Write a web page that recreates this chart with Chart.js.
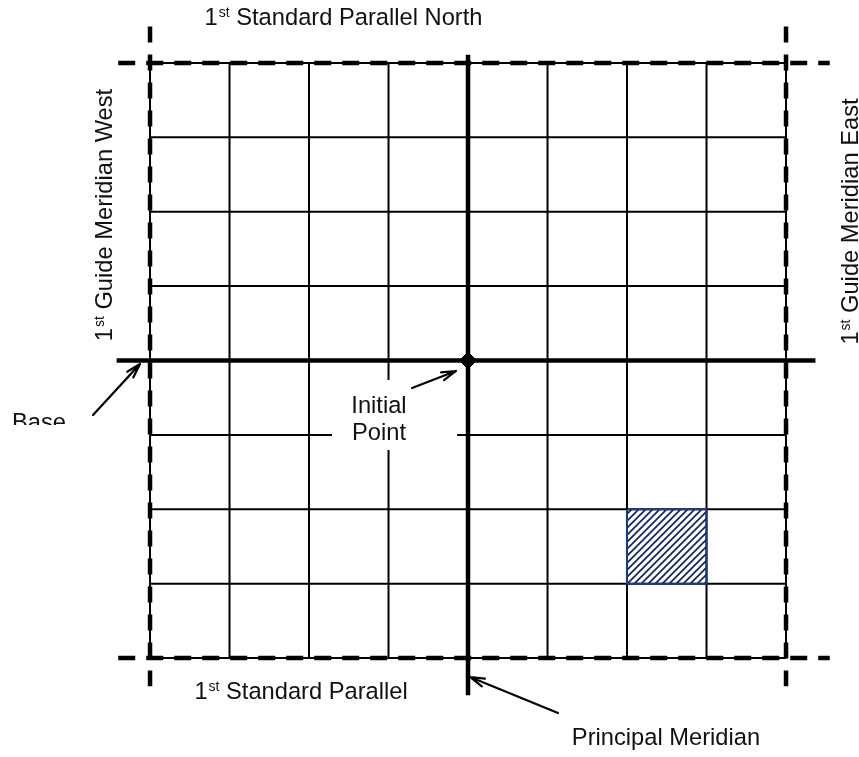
<!DOCTYPE html>
<html>
<head>
<meta charset="utf-8">
<script src="https://cdn.jsdelivr.net/npm/chart.js@4"></script>
<style>
  html, body { margin: 0; padding: 0; background: #fff; }
  #wrap { width: 859px; height: 757px; position: relative; }
</style>
</head>
<body>
<div id="wrap"><canvas id="survey"></canvas></div>
<script>
'use strict';
// township grid in township units (6 mi), origin = initial point
const rangeLines = [-3, -2, -1, 1, 2, 3];
const townshipLines = [-3, -2, -1, 1, 2, 3];
const guideMeridians = [-4, 4];
const standardParallels = [4, -4];
const gridSpan = [-4, 4];
const principalMeridianSpan = [4.11, -4.5];
const baseLineSpan = [-4.42, 4.37];
const dashSpanX = [-4.4, 4.55];
const dashSpanY = [4.49, -4.38];
const shadedCol = [2, 3];
const shadedRow = [-2, -3];
const initialPoint = [0, 0];

// visible window of the page
const view = { xMin: -5.887, xMax: 4.918, yMin: -5.331, yMax: 4.847 };
const FONT = '"Liberation Sans", Arial, sans-serif';

function seg(a, b, style) {
  return Object.assign({
    data: [a, b], showLine: true, pointRadius: 0, fill: false,
    borderColor: '#000', borderWidth: 2, borderCapStyle: 'butt'
  }, style);
}

// hatch pattern for the shaded township
function hatch() {
  const c = document.createElement('canvas');
  c.width = 7; c.height = 7;
  const g = c.getContext('2d');
  g.strokeStyle = '#102560';
  g.lineWidth = 1.7;
  g.beginPath();
  g.moveTo(-1, 1); g.lineTo(1, -1);
  g.moveTo(0, 7); g.lineTo(7, 0);
  g.moveTo(6, 8); g.lineTo(8, 6);
  g.stroke();
  return g.createPattern(c, 'repeat');
}

const datasets = [];

// shaded township
datasets.push({
  data: [{x: shadedCol[0], y: shadedRow[0]}, {x: shadedCol[1], y: shadedRow[0]}],
  showLine: true, pointRadius: 0, borderWidth: 0,
  fill: {value: shadedRow[1]}, backgroundColor: hatch(), order: 10
});

// thin range / township lines, plus solid part of the guide lines
[...rangeLines, ...guideMeridians].forEach(v => {
  datasets.push(seg({x: v, y: gridSpan[1]}, {x: v, y: gridSpan[0]}, {order: 8}));
});
[...townshipLines, ...standardParallels].forEach(v => {
  datasets.push(seg({x: gridSpan[0], y: v}, {x: gridSpan[1], y: v}, {order: 8}));
});

// outline of shaded township
datasets.push({
  data: [
    {x: shadedCol[0], y: shadedRow[0]}, {x: shadedCol[1], y: shadedRow[0]},
    {x: shadedCol[1], y: shadedRow[1]}, {x: shadedCol[0], y: shadedRow[1]},
    {x: shadedCol[0], y: shadedRow[0]}
  ],
  showLine: true, pointRadius: 0, fill: false,
  borderColor: '#1f3a80', borderWidth: 2, order: 7
});

// principal meridian and base line
datasets.push(seg({x: initialPoint[0], y: principalMeridianSpan[0]}, {x: initialPoint[0], y: principalMeridianSpan[1]}, {borderWidth: 4.5, order: 5}));
datasets.push(seg({x: baseLineSpan[0], y: initialPoint[1]}, {x: baseLineSpan[1], y: initialPoint[1]}, {borderWidth: 4.5, order: 5}));

// dashed guide meridians and standard parallels
guideMeridians.forEach(v => {
  datasets.push(seg({x: v, y: dashSpanY[0]}, {x: v, y: dashSpanY[1]}, {borderWidth: 4.5, borderDash: [16, 12], order: 4}));
});
standardParallels.forEach(v => {
  datasets.push(seg({x: dashSpanX[0], y: v}, {x: dashSpanX[1], y: v}, {borderWidth: 4.5, borderDash: [17, 11], order: 4}));
});

// initial point marker
datasets.push({
  data: [{x: initialPoint[0], y: initialPoint[1]}],
  pointStyle: 'rectRot', pointRadius: 8.5, backgroundColor: '#000', borderColor: '#000',
  borderWidth: 1, showLine: false, order: 1
});

// label spots (data units)
const texts = [
  {sup: true, text: 'Standard Parallel North', x: -1.566, y: 4.511},
  {sup: true, text: 'Standard Parallel', x: -2.10, y: -4.551},
  {text: 'Principal Meridian', x: 2.49, y: -5.17},
  {sup: true, text: 'Guide Meridian West', x: -4.478, y: 1.956, rot: true},
  {sup: true, text: 'Guide Meridian East', x: 4.906, y: 1.869, rot: true}
];
const arrows = [
  {from: [-4.717, -0.733], to: [-4.126, -0.047]},
  {from: [-0.704, -0.370], to: [-0.151, -0.141]},
  {from: [1.132, -4.739], to: [0.025, -4.255]}
];

function drawLabel(ctx, t, px, py) {
  const big = '23.7px ' + FONT, small = '14px ' + FONT;
  ctx.save();
  ctx.translate(px, py);
  if (t.rot) ctx.rotate(-Math.PI / 2);
  ctx.fillStyle = '#111';
  ctx.textBaseline = 'alphabetic';
  if (t.sup) {
    ctx.font = big;
    const w1 = ctx.measureText('1').width;
    const wt = ctx.measureText(' ' + t.text).width;
    ctx.font = small;
    const ws = ctx.measureText('st').width;
    const x0 = -(w1 + ws + 1 + wt) / 2;
    ctx.textAlign = 'left';
    ctx.font = big; ctx.fillText('1', x0, 0);
    ctx.font = small; ctx.fillText('st', x0 + w1 + 1, -8);
    ctx.font = big; ctx.fillText(' ' + t.text, x0 + w1 + ws + 1, 0);
  } else {
    ctx.font = big;
    ctx.textAlign = 'center';
    ctx.fillText(t.text, 0, 0);
  }
  ctx.restore();
}

const overlay = {
  id: 'overlay',
  afterDatasetsDraw(chart) {
    const {ctx, scales: {x, y}} = chart;
    const px = v => x.getPixelForValue(v), py = v => y.getPixelForValue(v);
    ctx.save();

    // white box behind "Initial Point"
    ctx.fillStyle = '#fff';
    ctx.fillRect(px(-1.711), py(-0.262), px(-0.138) - px(-1.711), py(-1.203) - py(-0.262));
    ctx.fillStyle = '#111';
    ctx.font = '23.7px ' + FONT;
    ctx.textAlign = 'center';
    ctx.fillText('Initial', px(-1.12), py(-0.706));
    ctx.fillText('Point', px(-1.12), py(-1.069));

    // "Base" label, cut off below
    ctx.save();
    ctx.beginPath();
    ctx.rect(0, 0, chart.width, py(-0.867));
    ctx.clip();
    ctx.textAlign = 'left';
    ctx.fillText('Base', px(-5.736), py(-0.934));
    ctx.restore();

    texts.forEach(t => drawLabel(ctx, t, px(t.x), py(t.y)));

    // arrows
    ctx.strokeStyle = '#000';
    ctx.lineWidth = 2.2;
    ctx.lineCap = 'round';
    arrows.forEach(a => {
      const x0 = px(a.from[0]), y0 = py(a.from[1]);
      const x1 = px(a.to[0]), y1 = py(a.to[1]);
      const ang = Math.atan2(y1 - y0, x1 - x0);
      ctx.beginPath();
      ctx.moveTo(x0, y0); ctx.lineTo(x1, y1);
      [0.28, -0.28].forEach(d => {
        ctx.moveTo(x1, y1);
        ctx.lineTo(x1 - 15 * Math.cos(ang + d), y1 - 15 * Math.sin(ang + d));
      });
      ctx.stroke();
    });
    ctx.restore();
  }
};

new Chart(document.getElementById('survey'), {
  type: 'scatter',
  data: { datasets: datasets },
  options: {
    responsive: true,
    maintainAspectRatio: false,
    animation: false,
    layout: { padding: 0, autoPadding: false },
    plugins: { legend: {display: false}, tooltip: {enabled: false} },
    scales: {
      x: { type: 'linear', min: view.xMin, max: view.xMax, display: false },
      y: { type: 'linear', min: view.yMin, max: view.yMax, display: false }
    }
  },
  plugins: [overlay]
});
</script>
</body>
</html>
